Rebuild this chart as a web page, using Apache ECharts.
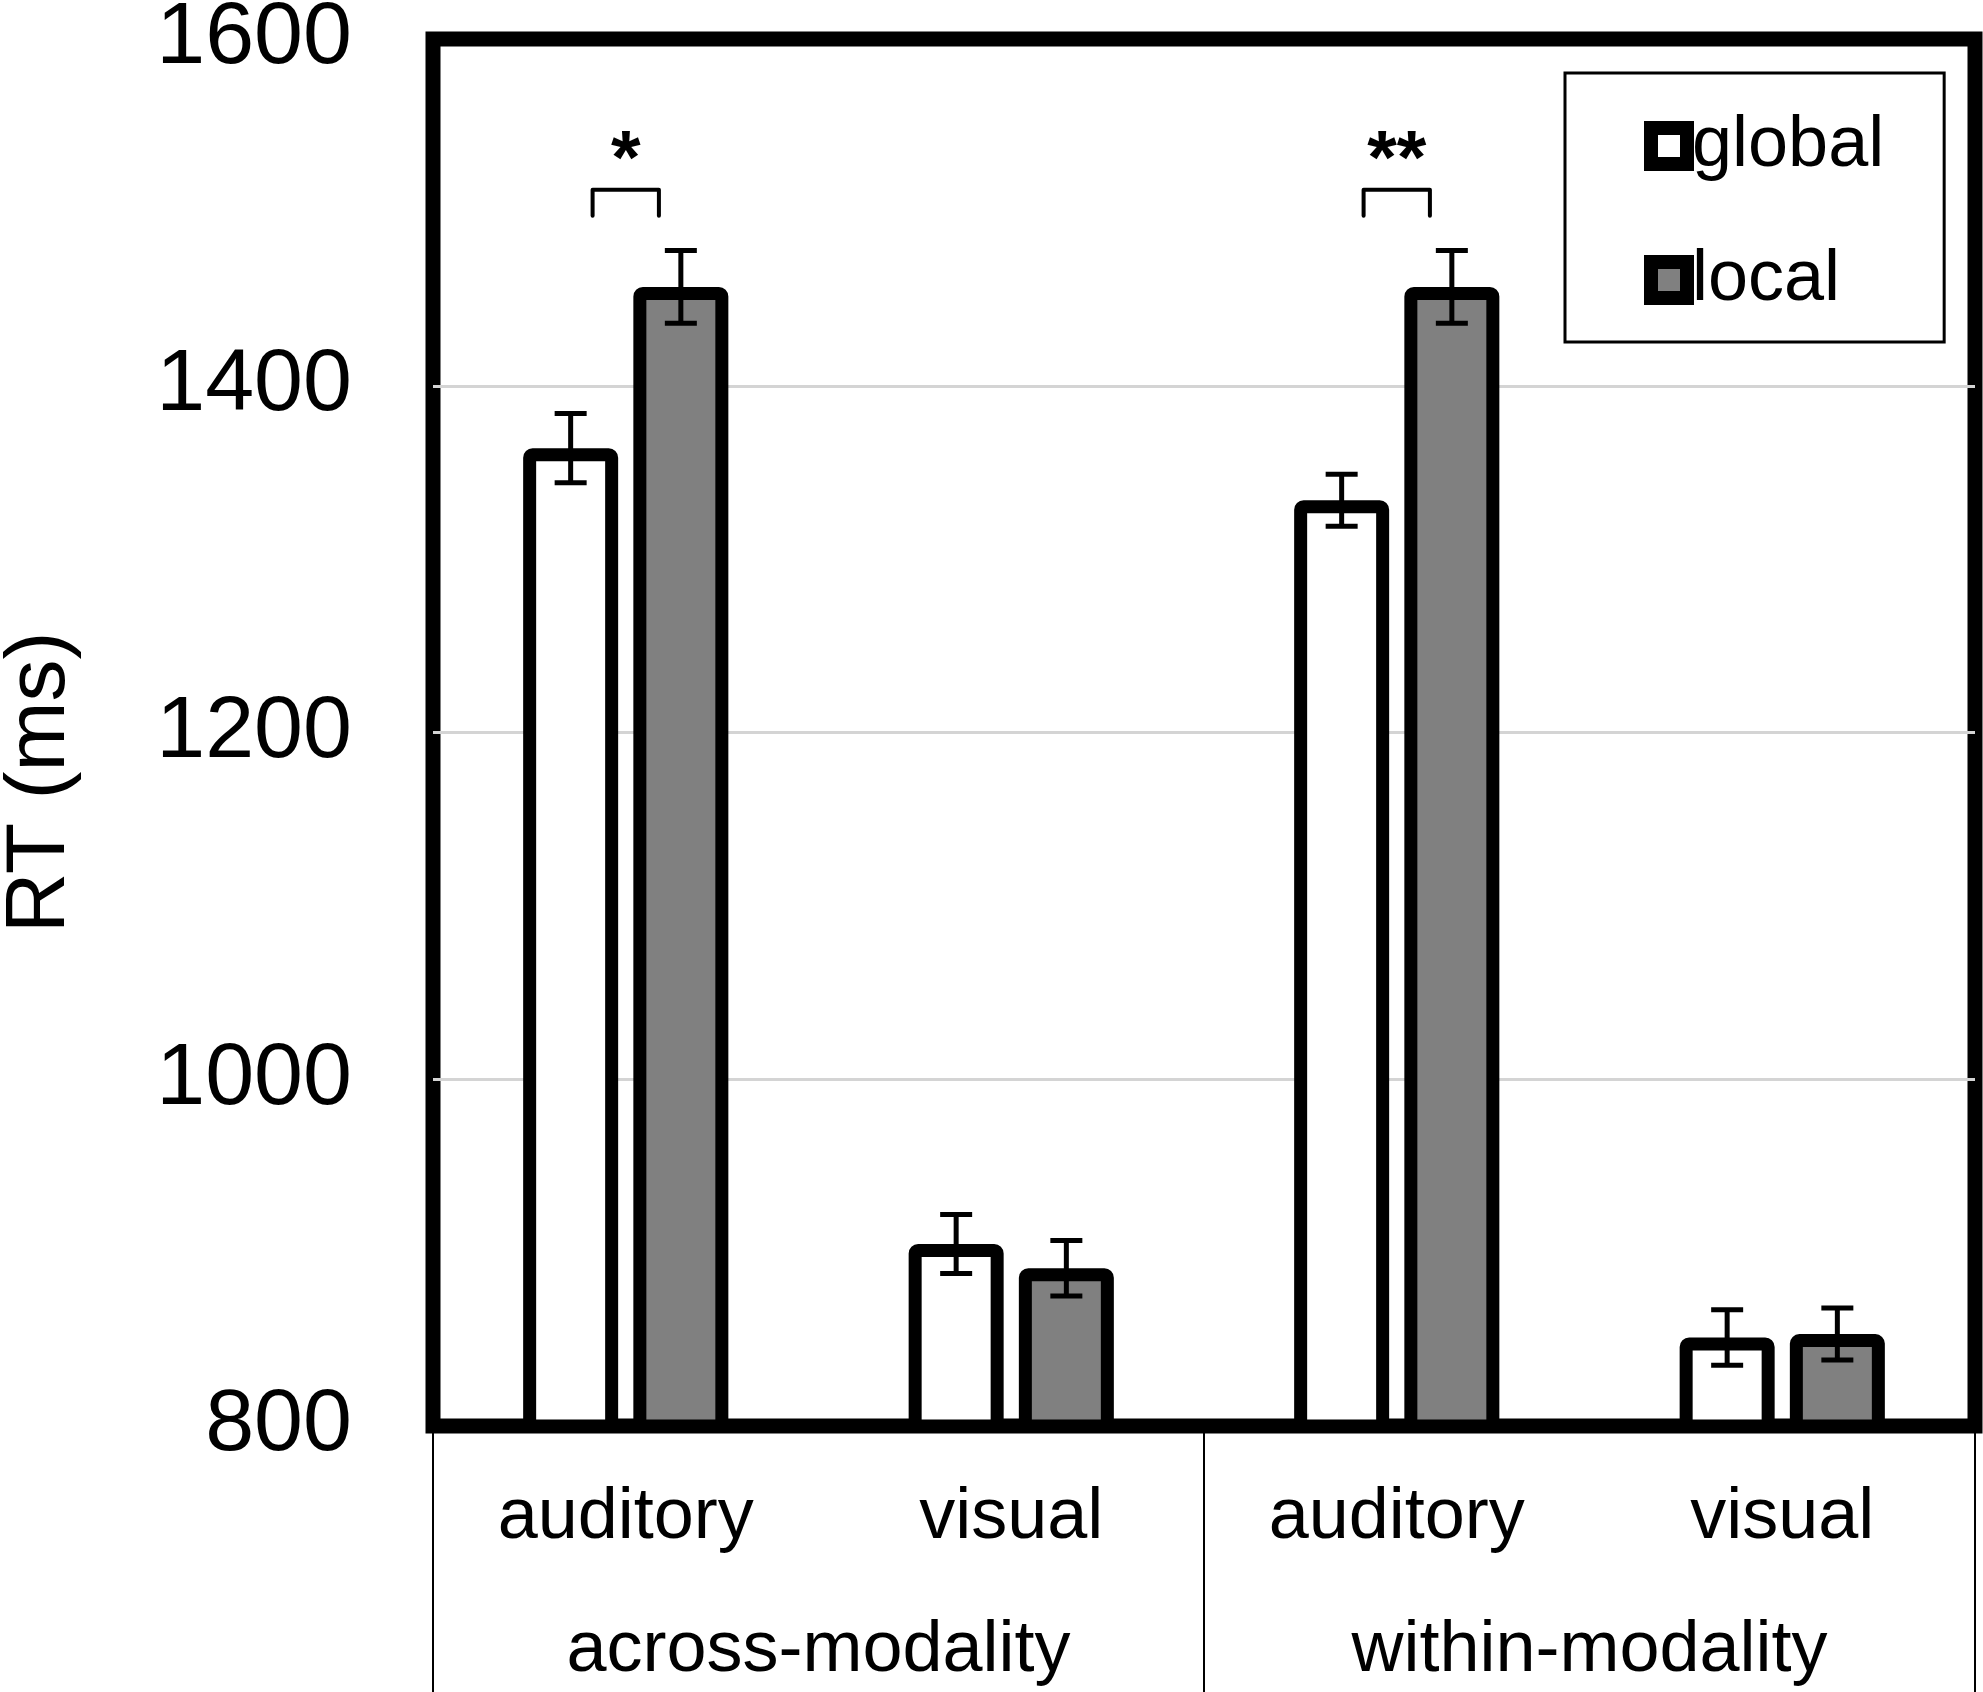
<!DOCTYPE html>
<html>
<head>
<meta charset="utf-8">
<script src="https://cdn.jsdelivr.net/npm/echarts@6/dist/echarts.min.js"></script>
<style>
  html, body { margin: 0; padding: 0; background: #fff; }
  #chart { width: 1983px; height: 1692px; }
</style>
</head>
<body>
<div id="chart"></div>
<script>
// ---- data ----
const categories = ['auditory', 'visual', 'auditory', 'visual'];
const groups = ['across-modality', 'within-modality'];
const seriesNames = ['global', 'local'];
const globalRT = [1364, 905, 1334, 851];
const localRT = [1457, 891, 1457, 853];
const globalErr = [20, 17, 15, 16];
const localErr = [21, 16, 21, 15];
const yMin = 800, yMax = 1600, yStep = 200;
// significance annotations: category index, bracket low/high (ms), label y (ms), label
const sigCategory = [0, 2];
const sigLow = [1498, 1498];
const sigHigh = [1513, 1513];
const sigTextAt = [1529, 1529];
const sigLabel = ['*', '**'];

// ---- style constants ----
const FONT = '"Liberation Sans", Arial, sans-serif';
const BAR_W = 95;
const BAR_GAP = 0.16;
const BAR_OFFSET = BAR_W * (1 + BAR_GAP) / 2;
const BRACKET_HALF = 0.086; // fraction of band width

const errData = [];
for (let i = 0; i < categories.length; i++) {
  errData.push([i, globalRT[i], globalErr[i], -1]);
  errData.push([i, localRT[i], localErr[i], 1]);
}
const sigData = sigCategory.map((c, i) => [c, sigLow[i], sigHigh[i], sigTextAt[i], sigLabel[i]]);

const chart = echarts.init(document.getElementById('chart'));
chart.setOption({
  backgroundColor: '#fff',
  animation: false,
  textStyle: { fontFamily: FONT },
  grid: {
    left: 433, right: 8, top: 39, bottom: 266,
    outerBoundsMode: 'none', containLabel: false,
    show: true, borderColor: '#000', borderWidth: 15, backgroundColor: 'transparent'
  },
  legend: {
    data: seriesNames,
    orient: 'vertical',
    left: 1565, top: 73,
    padding: [33, 60, 22, 79],
    itemGap: 54,
    itemWidth: 36, itemHeight: 36,
    icon: 'rect',
    itemStyle: { borderColor: '#000', borderWidth: 14 },
    borderColor: '#000', borderWidth: 3,
    backgroundColor: '#fff',
    textStyle: { fontSize: 72, lineHeight: 80, color: '#000', fontFamily: FONT }
  },
  xAxis: [
    {
      type: 'category', data: categories, position: 'bottom',
      axisLine: { show: true, lineStyle: { color: '#000', width: 14 } },
      axisTick: { show: false },
      axisLabel: { fontSize: 72, color: '#000', margin: 56, fontFamily: FONT }
    },
    {
      type: 'category', data: groups, position: 'bottom',
      axisLine: { show: false },
      axisTick: { show: true, length: 266, alignWithLabel: false, lineStyle: { color: '#000', width: 2 } },
      axisLabel: { fontSize: 72, color: '#000', margin: 189, fontFamily: FONT }
    }
  ],
  yAxis: {
    type: 'value', min: yMin, max: yMax, interval: yStep,
    name: 'RT (ms)', nameLocation: 'middle', nameRotate: 90, nameGap: 350,
    nameTextStyle: { fontSize: 84, color: '#000', fontFamily: FONT, padding: [0, 100, 0, 0] },
    axisLine: { show: false }, axisTick: { show: false },
    axisLabel: { fontSize: 88, color: '#000', margin: 81, fontFamily: FONT, formatter: v => String(v) },
    splitLine: { show: true, showMaxLine: false, showMinLine: false, lineStyle: { color: '#d4d4d4', width: 3 } }
  },
  series: [
    {
      name: 'global', type: 'bar', data: globalRT, barWidth: BAR_W, barGap: (BAR_GAP * 100) + '%',
      itemStyle: { color: '#ffffff', borderColor: '#000', borderWidth: 13, borderRadius: 3 },
      z: 2
    },
    {
      name: 'local', type: 'bar', data: localRT, barWidth: BAR_W,
      itemStyle: { color: '#808080', borderColor: '#000', borderWidth: 13, borderRadius: 3 },
      z: 2
    },
    {
      name: 'err', type: 'custom', data: errData, z: 5,
      encode: { x: 0, y: 1 },
      renderItem: function (params, api) {
        const cat = api.value(0), m = api.value(1), e = api.value(2), side = api.value(3);
        const p = api.coord([cat, m]);
        const x = p[0] + side * BAR_OFFSET;
        const yT = api.coord([cat, m + e])[1];
        const yB = api.coord([cat, m - e])[1];
        const cap = 16;
        const st = { stroke: '#000', lineWidth: 5 };
        return {
          type: 'group',
          children: [
            { type: 'line', shape: { x1: x, y1: yT, x2: x, y2: yB }, style: st },
            { type: 'line', shape: { x1: x - cap, y1: yT, x2: x + cap, y2: yT }, style: st },
            { type: 'line', shape: { x1: x - cap, y1: yB, x2: x + cap, y2: yB }, style: st }
          ]
        };
      }
    },
    {
      name: 'sig', type: 'custom', data: sigData, z: 5,
      encode: { x: 0, y: 2 },
      renderItem: function (params, api) {
        const cat = api.value(0);
        const lo = api.value(1), hi = api.value(2), ty = api.value(3);
        const xc = api.coord([cat, hi])[0];
        const h = api.size([1, 0])[0] * BRACKET_HALF;
        const yHi = api.coord([cat, hi])[1];
        const yLo = api.coord([cat, lo])[1];
        const yText = api.coord([cat, ty])[1];
        const label = sigData[params.dataIndex][4];
        return {
          type: 'group',
          children: [
            { type: 'polyline', shape: { points: [[xc - h, yLo], [xc - h, yHi], [xc + h, yHi], [xc + h, yLo]] },
              style: { stroke: '#000', lineWidth: 4, fill: null, lineJoin: 'round', lineCap: 'round' } },
            { type: 'text', x: xc, y: yText,
              style: { text: label, fontSize: 76, fontWeight: 'bold', fontFamily: FONT, fill: '#000', align: 'center', verticalAlign: 'middle' } }
          ]
        };
      }
    }
  ]
});
</script>
</body>
</html>
